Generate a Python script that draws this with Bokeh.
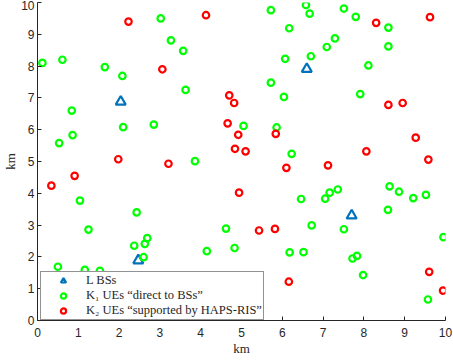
from bokeh.plotting import figure
from bokeh.models import Range1d, Legend, LegendItem
from bokeh.embed import file_html
from bokeh.resources import INLINE

# Base stations (L BSs)
bs_x = [2.04, 6.60, 2.47, 7.70]
bs_y = [6.88, 7.91, 1.89, 3.30]

# K1 UEs "direct to BSs"
k1_x = [0.12, 0.61, 1.65, 2.08, 3.02, 3.27, 3.57, 3.63, 0.84, 2.10, 2.85, 0.86, 0.53, 3.86,
        5.72, 6.58, 6.67, 7.51, 7.80, 8.60, 6.17, 7.29, 7.09, 8.60, 6.07, 6.70, 8.11, 5.72,
        6.04, 7.91, 5.05, 5.86, 6.23, 1.04, 2.43, 1.25, 2.37, 2.63, 2.69, 2.60, 4.15, 4.62,
        0.50, 1.16, 1.53, 6.46, 7.05, 7.16, 7.36, 8.63, 8.86, 9.21, 9.52, 8.59, 6.72, 7.51,
        9.95, 4.83, 6.18, 6.52, 7.72, 7.83, 7.98, 9.57]
k1_y = [8.10, 8.20, 7.97, 7.69, 9.50, 8.81, 8.48, 7.25, 6.60, 6.08, 6.16, 5.83, 5.58, 5.01,
        9.76, 9.92, 9.65, 9.81, 9.55, 9.21, 9.19, 8.87, 8.60, 8.62, 8.23, 8.31, 8.02, 7.48,
        7.03, 7.12, 6.12, 6.07, 5.24, 3.77, 3.40, 2.86, 2.35, 2.41, 2.59, 1.99, 2.18, 2.89,
        1.69, 1.59, 1.56, 3.82, 3.83, 4.02, 4.12, 4.22, 4.05, 3.85, 3.95, 3.48, 2.99, 2.87,
        2.62, 2.28, 2.14, 2.15, 1.95, 2.03, 1.43, 0.66]

# K2 UEs "supported by HAPS-RIS"
k2_x = [2.23, 4.13, 3.06, 1.98, 3.21, 0.91, 0.34, 4.70, 4.82, 4.66, 8.30, 9.62, 8.60, 8.95,
        4.92, 5.84, 9.27, 4.84, 5.10, 8.06, 9.58, 6.10, 7.12, 4.94, 5.43, 5.82, 6.16, 9.60,
        9.94, 0.57, 5.31]
k2_y = [9.40, 9.60, 7.90, 5.07, 4.93, 4.55, 4.24, 7.08, 6.84, 6.20, 9.36, 9.54, 6.78, 6.84,
        5.84, 5.87, 5.75, 5.40, 5.32, 5.32, 5.06, 4.80, 4.88, 4.02, 2.83, 2.88, 1.22, 1.53,
        0.94, 1.42, 0.02]

ticks = list(range(0, 11))
axis_label = "km"
labels = ["L BSs", "K\u2081 UEs \u201cdirect to BSs\u201d", "K\u2082 UEs \u201csupported by HAPS-RIS\u201d"]

p = figure(width=453, height=358, x_range=Range1d(0, 10), y_range=Range1d(0, 10),
           output_backend="svg", toolbar_location=None,
           min_border_top=2, min_border_right=8, min_border_left=0, min_border_bottom=0)
p.outline_line_color = None
p.xgrid.visible = False
p.ygrid.visible = False
p.background_fill_color = "white"

for ax in (p.xaxis[0], p.yaxis[0]):
    ax.ticker = ticks
    ax.major_tick_in = 4
    ax.major_tick_out = 0
    ax.minor_tick_line_color = None
    ax.axis_line_color = "#262626"
    ax.major_tick_line_color = "#262626"
    ax.major_label_text_font = "Liberation Sans"
    ax.major_label_text_font_size = "12px"
    ax.major_label_text_color = "#262626"
    ax.axis_label = axis_label
    ax.axis_label_text_font = "Liberation Serif"
    ax.axis_label_text_font_style = "normal"
    ax.axis_label_text_font_size = "13px"
    ax.axis_label_text_color = "#262626"

p.xaxis[0].major_label_standoff = 7
p.xaxis[0].axis_label_standoff = 1
p.yaxis[0].major_label_standoff = 3
p.yaxis[0].axis_label_standoff = 0

r_bs = p.scatter(bs_x, bs_y, marker="triangle", size=10, fill_color=None,
                 line_color="#0072BD", line_width=2.2)
r_k1 = p.scatter(k1_x, k1_y, marker="circle", size=6.5, fill_color=None,
                 line_color="#00FF00", line_width=2.2)
r_k2 = p.scatter(k2_x, k2_y, marker="circle", size=6.5, fill_color=None,
                 line_color="#FF0000", line_width=2.2)

legend = Legend(items=[LegendItem(label=labels[0], renderers=[r_bs]),
                       LegendItem(label=labels[1], renderers=[r_k1]),
                       LegendItem(label=labels[2], renderers=[r_k2])],
                location=(3, 0), margin=0, padding=1, spacing=-1,
                label_height=13, glyph_height=13, glyph_width=42, label_standoff=2,
                label_text_font="Liberation Serif, DejaVu Serif", label_text_font_size="12.5px",
                label_text_color="#262626",
                border_line_color="#262626", border_line_width=1,
                background_fill_color="white", background_fill_alpha=1.0)
p.add_layout(legend, "center")

open("out.html", "w").write(file_html(p, INLINE))
